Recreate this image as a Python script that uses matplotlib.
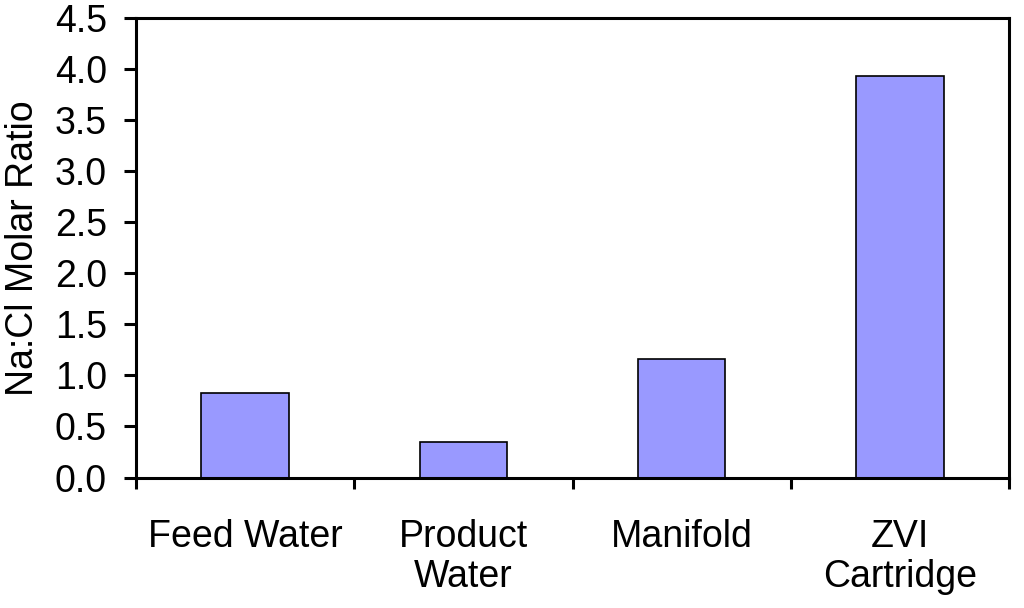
import numpy as np
import matplotlib.pyplot as plt

categories = ["Feed Water", "Product\nWater", "Manifold", "ZVI\nCartridge"]
ratios = [0.83, 0.345, 1.16, 3.93]

plt.rcParams["font.family"] = ["Liberation Sans", "DejaVu Sans"]

fig = plt.figure(figsize=(10.24, 6.08), dpi=100)
ax = fig.add_axes([0.1328, 0.2146, 0.8526, 0.7553])

x = np.arange(len(categories))
ax.bar(x, ratios, width=0.4, color="#9999FF", edgecolor="black", linewidth=1.2)

ax.set_xlim(-0.5, len(categories) - 0.5)
ax.set_ylim(0, 4.5)
ax.set_yticks(np.arange(0, 4.51, 0.5))
ax.set_yticklabels(["{:.1f}".format(v) for v in np.arange(0, 4.51, 0.5)])

ax.set_xticks(x)
ax.set_xticklabels(categories, linespacing=1.15)
ax.set_xticks(np.arange(-0.5, len(categories), 1.0), minor=True)
ax.tick_params(axis="x", which="major", length=0, pad=30, labelsize=27)
ax.tick_params(axis="x", which="minor", length=8, width=2.2, direction="out")
ax.tick_params(axis="y", length=9, width=2.2, direction="out", pad=12, labelsize=27)

for s in ax.spines.values():
    s.set_linewidth(2.2)

ax.set_ylabel("Na:Cl Molar Ratio", fontsize=27, labelpad=10)

fig.savefig("out.png", dpi=100)
